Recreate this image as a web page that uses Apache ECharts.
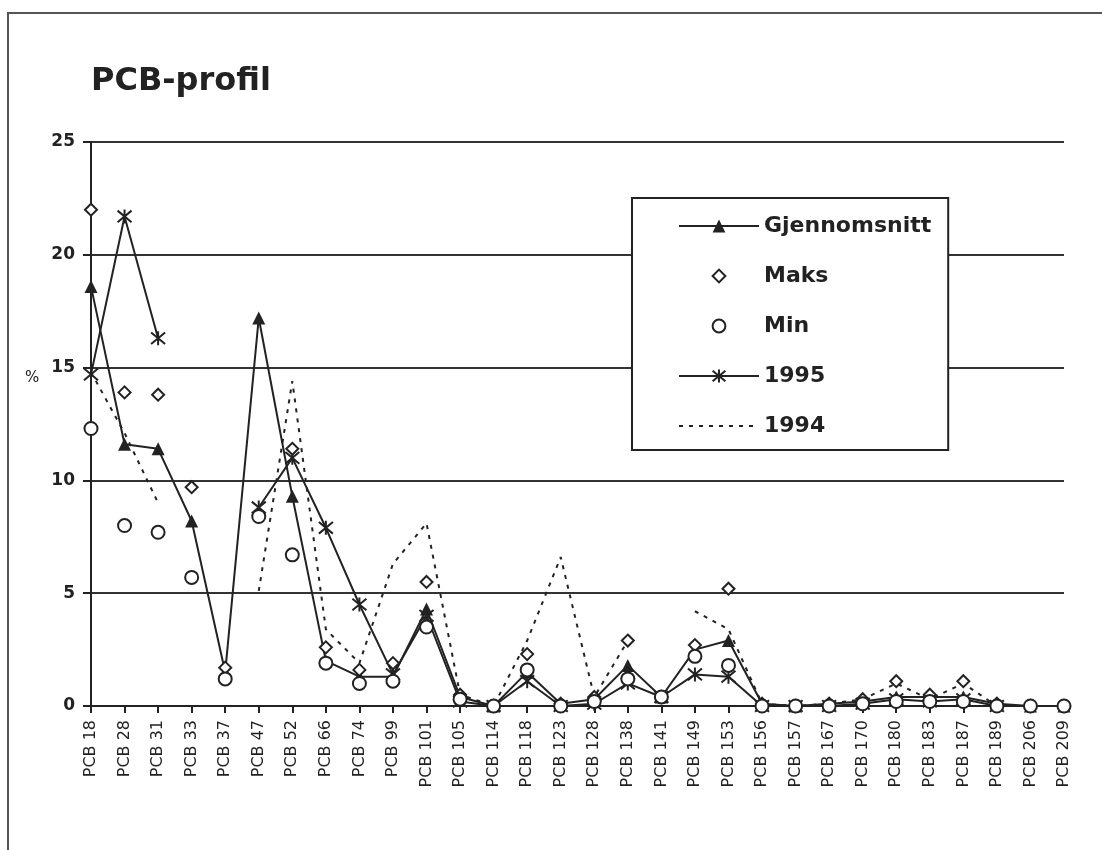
<!DOCTYPE html>
<html>
	<head>
		<meta charset="UTF-8">
		<title>PCB-profil</title>
		<style>
			body { margin: 0; background: #fff; }
			#frame { position: absolute; left: 7px; top: 12px; width: 1120px; height: 860px; border-top: 2px solid #555; border-left: 2px solid #555; }
			#myChart { position: absolute; left: 0; top: 0; width: 1102px; height: 850px; }
		</style>
	</head>
	<body>
		<div id="frame"></div>
		<div id="myChart"></div>
		<script src="https://cdn.jsdelivr.net/npm/echarts@6/dist/echarts.min.js"></script>
		<script>
			var categories = ['PCB 18', 'PCB 28', 'PCB 31', 'PCB 33', 'PCB 37', 'PCB 47', 'PCB 52', 'PCB 66', 'PCB 74', 'PCB 99',
				'PCB 101', 'PCB 105', 'PCB 114', 'PCB 118', 'PCB 123', 'PCB 128', 'PCB 138', 'PCB 141', 'PCB 149', 'PCB 153',
				'PCB 156', 'PCB 157', 'PCB 167', 'PCB 170', 'PCB 180', 'PCB 183', 'PCB 187', 'PCB 189', 'PCB 206', 'PCB 209'];
			var gjennomsnitt = [18.6, 11.6, 11.4, 8.2, 1.5, 17.2, 9.3, 2.0, 1.3, 1.3, 4.3, 0.4, 0.0, 1.5, 0.1, 0.3, 1.8, 0.4, 2.5, 2.9,
				0.1, 0.0, 0.1, 0.2, 0.4, 0.4, 0.4, 0.1, 0.0, 0.0];
			var maks = [22.0, 13.9, 13.8, 9.7, 1.7, null, 11.4, 2.6, 1.6, 1.9, 5.5, 0.5, 0.0, 2.3, 0.1, 0.4, 2.9, 0.4, 2.7, 5.2,
				0.1, 0.0, 0.1, 0.3, 1.1, 0.5, 1.1, 0.1, 0.0, 0.0];
			var min = [12.3, 8.0, 7.7, 5.7, 1.2, 8.4, 6.7, 1.9, 1.0, 1.1, 3.5, 0.3, 0.0, 1.6, 0.0, 0.2, 1.2, 0.4, 2.2, 1.8,
				0.0, 0.0, 0.0, 0.1, 0.2, 0.2, 0.2, 0.0, 0.0, 0.0];
			var y1995 = [14.7, 21.7, 16.3, null, null, 8.8, 11.0, 7.9, 4.5, 1.4, 4.0, 0.2, 0.0, 1.1, 0.0, 0.1, 1.0, 0.4, 1.4, 1.3,
				0.0, 0.0, 0.0, 0.1, 0.3, 0.2, 0.3, 0.0, null, null];
			var y1994 = [14.8, 12.1, 9.0, null, null, 5.1, 14.4, 3.4, 1.9, 6.3, 8.1, 0.5, 0.0, 2.9, 6.6, 0.4, 2.9, null, 4.2, 3.4,
				0.1, 0.0, 0.1, 0.3, 1.0, 0.3, 1.0, 0.0, null, null];
			var yTicks = [0, 5, 10, 15, 20, 25];

			var font = 'DejaVu Sans';
			var ink = '#222';
			var starPath = 'path://M1,1L11,11M11,1L1,11M6,0L6,12';

			var myChart = echarts.init(document.getElementById('myChart'));

			function initOptions() {
				return {
					animation: false,
					title: [{
						text: 'PCB-profil',
						left: 91,
						top: 66,
						padding: 0,
						textStyle: { fontFamily: font, fontWeight: 'bold', fontSize: 32, color: ink }
					}, {
						text: '%',
						left: 25,
						top: 371,
						padding: 0,
						textStyle: { fontFamily: font, fontWeight: 'normal', fontSize: 15, color: ink }
					}],
					legend: {
						orient: 'vertical',
						left: 632,
						top: 198,
						padding: [17, 17, 13, 46],
						itemWidth: 80,
						itemHeight: 16,
						itemGap: 28,
						backgroundColor: '#fff',
						borderColor: ink,
						borderWidth: 2,
						selectedMode: false,
						textStyle: { fontFamily: font, fontWeight: 'bold', fontSize: 22, color: ink },
						data: ['Gjennomsnitt', 'Maks', 'Min', '1995', { name: '1994', itemStyle: { opacity: 0 } }]
					},
					grid: {
						left: 91,
						right: 38,
						top: 142,
						bottom: 144
					},
					xAxis: {
						type: 'category',
						boundaryGap: false,
						data: categories,
						axisLine: { lineStyle: { color: ink, width: 2 } },
						axisTick: { length: 7, lineStyle: { color: ink, width: 2 } },
						axisLabel: { interval: 0, rotate: 90, margin: 14, fontFamily: font, fontSize: 16, color: ink },
						splitLine: { show: false }
					},
					yAxis: {
						type: 'value',
						min: yTicks[0],
						max: yTicks[yTicks.length - 1],
						interval: 5,
						axisLine: { show: true, lineStyle: { color: ink, width: 2 } },
						axisTick: { show: true, length: 8, lineStyle: { color: ink, width: 2 } },
						axisLabel: { margin: 16, fontFamily: font, fontWeight: 'bold', fontSize: 17, color: ink },
						splitLine: { show: true, lineStyle: { color: '#333', width: 2 } }
					},
					series: [{
						name: 'Gjennomsnitt',
						type: 'line',
						data: gjennomsnitt,
						symbol: 'triangle',
						symbolSize: 13,
						showAllSymbol: true,
						lineStyle: { color: ink, width: 2 },
						itemStyle: { color: ink },
						z: 3
					}, {
						name: 'Maks',
						type: 'line',
						data: maks,
						symbol: 'emptyDiamond',
						symbolSize: 12,
						showAllSymbol: true,
						lineStyle: { width: 0 },
						itemStyle: { color: ink, borderWidth: 1.5 },
						z: 5
					}, {
						name: 'Min',
						type: 'line',
						data: min,
						symbol: 'emptyCircle',
						symbolSize: 13,
						showAllSymbol: true,
						lineStyle: { width: 0 },
						itemStyle: { color: ink, borderWidth: 1.5 },
						z: 5
					}, {
						name: '1995',
						type: 'line',
						data: y1995,
						symbol: starPath,
						symbolSize: 14,
						showAllSymbol: true,
						lineStyle: { color: ink, width: 2 },
						itemStyle: { color: ink, borderColor: ink, borderWidth: 2 },
						z: 4
					}, {
						name: '1994',
						type: 'line',
						data: y1994,
						symbol: 'none',
						lineStyle: { color: ink, width: 2, type: [4, 6] },
						itemStyle: { color: ink },
						z: 2
					}]
				};
			}

			myChart.setOption(initOptions());
		</script>
	</body>
</html>
